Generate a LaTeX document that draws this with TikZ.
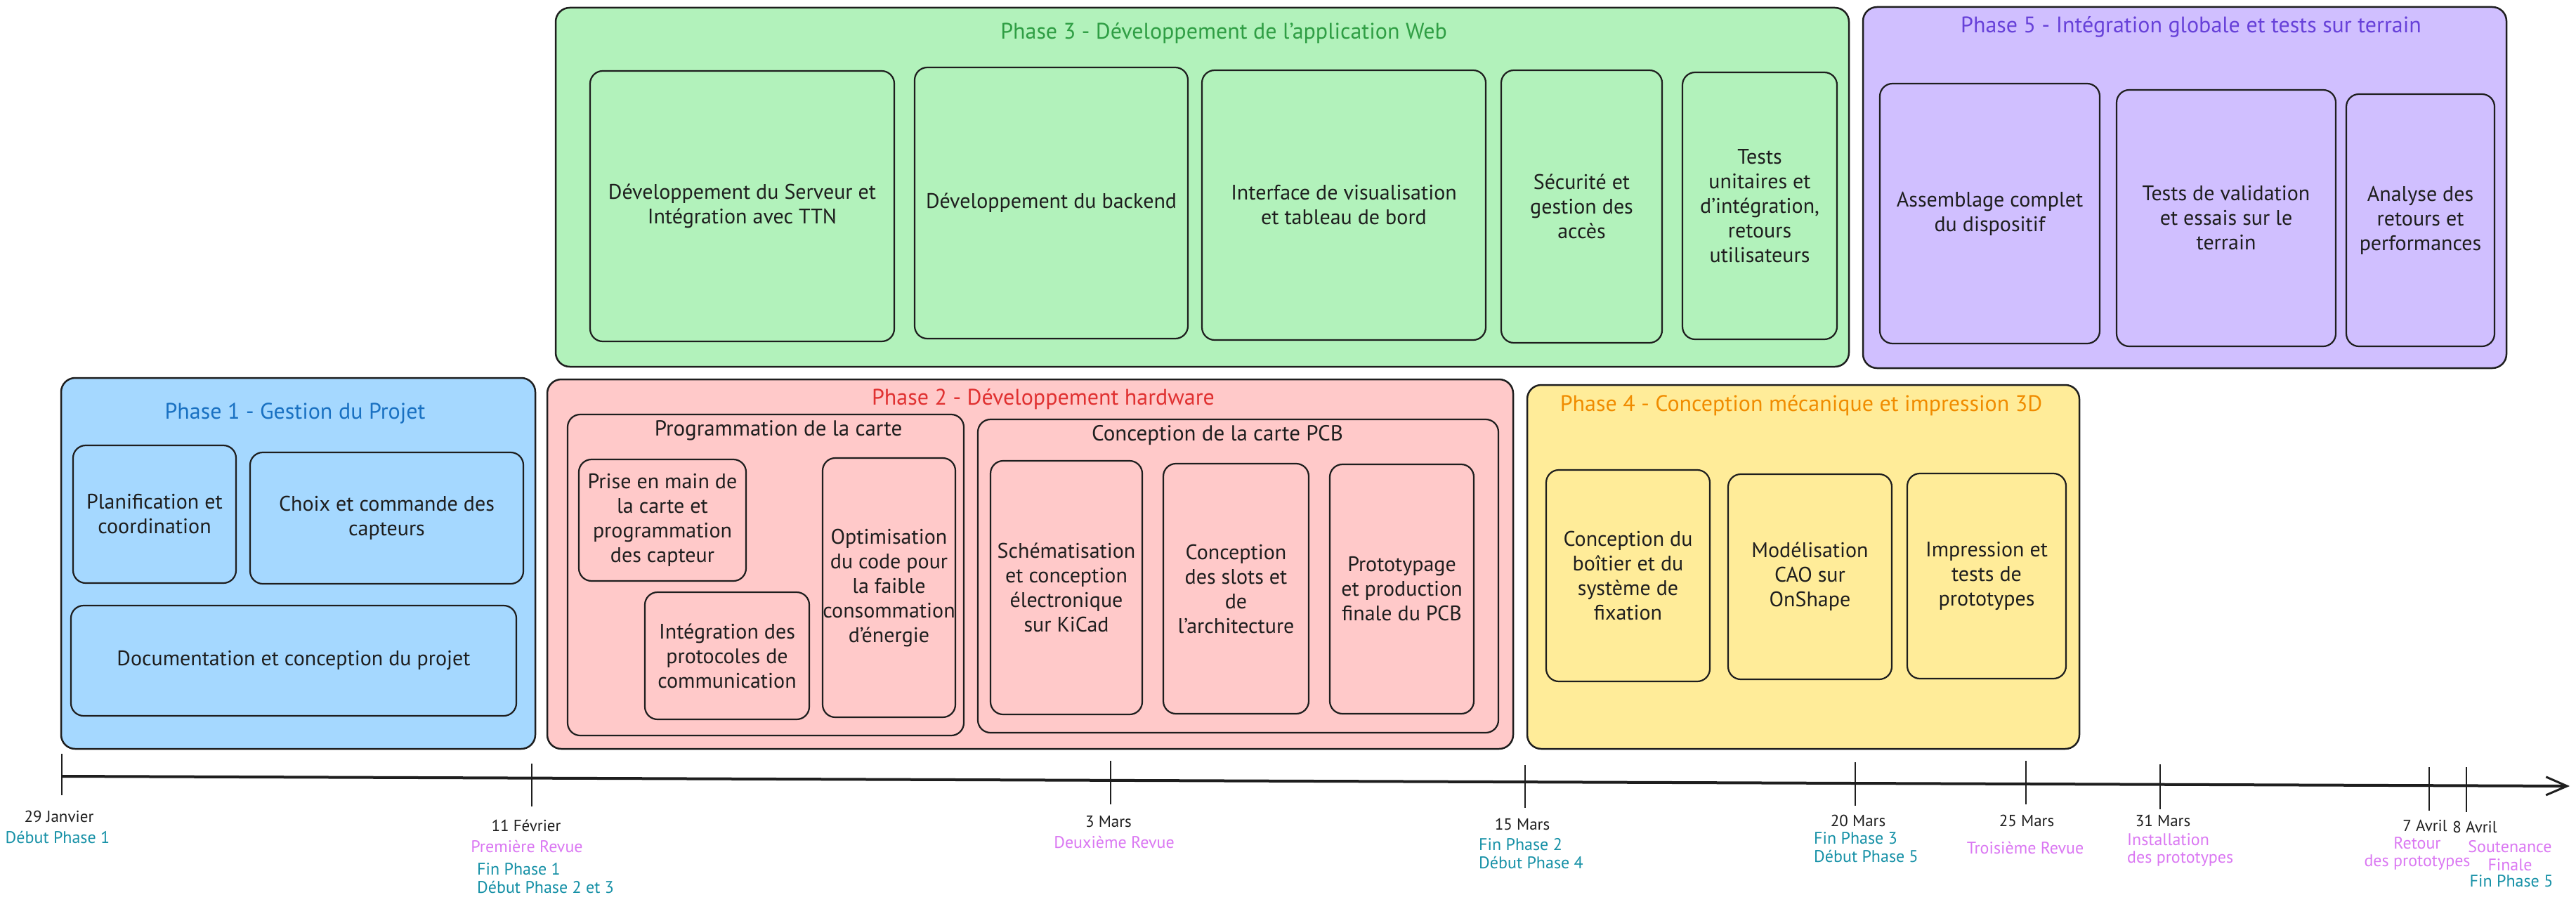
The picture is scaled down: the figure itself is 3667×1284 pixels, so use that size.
\documentclass[tikz,border=0pt]{standalone}
\usepackage{fontspec}
\setmainfont{PT Sans}
\usetikzlibrary{arrows.meta}
\definecolor{ink}{HTML}{1E1E1E}
\definecolor{p1fill}{HTML}{A5D8FF}\definecolor{p1text}{HTML}{1971C2}
\definecolor{p2fill}{HTML}{FFC9C9}\definecolor{p2text}{HTML}{E03131}
\definecolor{p3fill}{HTML}{B2F2BB}\definecolor{p3text}{HTML}{2F9E44}
\definecolor{p4fill}{HTML}{FFEC99}\definecolor{p4text}{HTML}{F08C00}
\definecolor{p5fill}{HTML}{D0BFFF}\definecolor{p5text}{HTML}{6741D9}
\definecolor{teal}{HTML}{1590A6}
\definecolor{pinkrev}{HTML}{DA77F2}
\tikzset{
  phasebox/.style={draw=ink, line width=2.5pt, rounded corners=20pt, inner sep=0pt},
  inbox/.style={draw=ink, line width=2.2pt, rounded corners=18pt, align=center, inner sep=0pt,
    text=ink, font=\fontsize{30}{35}\selectfont},
  grouptitle/.style={text=ink, font=\fontsize{31}{35}\selectfont, inner sep=0pt},
  phasetitle/.style={font=\fontsize{32}{36}\selectfont, inner sep=0pt},
  tickline/.style={draw=ink, line width=2pt},
  datelbl/.style={text=ink, font=\fontsize{23}{25}\selectfont, inner sep=0pt},
  revlbl/.style={text=pinkrev, font=\fontsize{24}{25.5}\selectfont, inner sep=0pt, align=center},
  phaselbl/.style={text=teal, font=\fontsize{24}{25.5}\selectfont, inner sep=0pt, align=left},
}
% \bx[opts]{name}{x1}{y1}{x2}{y2}{text}
\newcommand\bx[7][]{\node[#1,minimum width={(#5-#3)*1pt},minimum height={(#6-#4)*1pt}] (#2) at ({(#3+#5)/2},{(#4+#6)/2}) {#7};}
% \tickmark{name}{x}{y1}{y2}
\newcommand\tickmark[4]{\coordinate (#1a) at (#2,#3); \coordinate (#1b) at (#2,#4); \draw[tickline] (#1a) -- (#1b);}
\begin{document}
\begin{tikzpicture}[x=1pt,y=-1pt]
\useasboundingbox (0,0) rectangle (3667,1284);

% ---------- Phase 1 ----------
\bx[phasebox,fill=p1fill]{ph1}{87}{538}{762}{1066}{}
\node[phasetitle,text=p1text] (ph1t) at (420,588) {Phase 1 - Gestion du Projet};
\bx[inbox]{planif}{104}{634}{336}{830}{Planification et\\coordination}
\bx[inbox]{choix}{356}{644}{745}{831}{Choix et commande des\\capteurs}
\bx[inbox]{docu}{101}{862}{735}{1019}{Documentation et conception du projet}

% ---------- Phase 2 ----------
\bx[phasebox,fill=p2fill]{ph2}{779}{540}{2154}{1066}{}
\node[phasetitle,text=p2text] (ph2t) at (1485,568) {Phase 2 - Développement hardware};
\bx[inbox]{prog}{808}{590}{1372}{1047}{}
\node[grouptitle] (progt) at (1108,613) {Programmation de la carte};
\bx[inbox]{prise}{824}{654}{1062}{827}{Prise en main de\\la carte et\\programmation\\des capteur}
\bx[inbox]{integ}{918}{843}{1152}{1024}{Intégration des\\protocoles de\\communication}
\bx[inbox]{optim}{1171}{652}{1360}{1021}{Optimisation\\du code pour\\la faible\\consommation\\d'énergie}
\bx[inbox]{pcb}{1392}{597}{2133}{1043}{}
\node[grouptitle] (pcbt) at (1733,620) {Conception de la carte PCB};
\bx[inbox]{schem}{1410}{656}{1626}{1017}{Schématisation\\et conception\\électronique\\sur KiCad}
\bx[inbox]{slots}{1656}{660}{1863}{1016}{Conception\\des slots et\\de\\l'architecture}
\bx[inbox]{proto}{1893}{661}{2098}{1016}{Prototypage\\et production\\finale du PCB}

% ---------- Phase 3 ----------
\bx[phasebox,fill=p3fill]{ph3}{791}{11}{2632}{522}{}
\node[phasetitle,text=p3text] (ph3t) at (1742,47) {Phase 3 - Développement de l'application Web};
\bx[inbox]{serv}{840}{101}{1273}{486}{Développement du Serveur et\\Intégration avec TTN}
\bx[inbox]{back}{1302}{96}{1691}{482}{Développement du backend}
\bx[inbox]{interf}{1711}{100}{2115}{484}{Interface de visualisation\\et tableau de bord}
\bx[inbox]{secu}{2137}{100}{2366}{488}{Sécurité et\\gestion des\\accès}
\bx[inbox]{tests}{2395}{103}{2615}{483}{Tests\\unitaires et\\d'intégration,\\retours\\utilisateurs}

% ---------- Phase 4 ----------
\bx[phasebox,fill=p4fill]{ph4}{2174}{548}{2960}{1066}{}
\node[phasetitle,text=p4text] (ph4t) at (2564,577) {Phase 4 - Conception mécanique et impression 3D};
\bx[inbox]{boit}{2201}{669}{2434}{970}{Conception du\\boîtier et du\\système de\\fixation}
\bx[inbox]{model}{2460}{675}{2693}{967}{Modélisation\\CAO sur\\OnShape}
\bx[inbox]{impr}{2715}{674}{2941}{966}{Impression et\\tests de\\prototypes}

% ---------- Phase 5 ----------
\bx[phasebox,fill=p5fill]{ph5}{2652}{10}{3568}{524}{}
\node[phasetitle,text=p5text] (ph5t) at (3119,38) {Phase 5 - Intégration globale et tests sur terrain};
\bx[inbox]{assem}{2676}{119}{2989}{489}{Assemblage complet\\du dispositif}
\bx[inbox]{valid}{3013}{128}{3325}{493}{Tests de validation\\et essais sur le\\terrain}
\bx[inbox]{analy}{3340}{134}{3551}{493}{Analyse des\\retours et\\performances}

% ---------- Timeline ----------
\coordinate (tlS) at (88,1105);
\coordinate (tlE) at (3658,1119);
\draw[draw=ink, line width=4pt, -{Straight Barb[length=30pt,width=26pt,line width=3pt]}] (tlS) -- (tlE);
\tickmark{t1}{88}{1073}{1132}
\tickmark{t2}{757}{1087}{1148}
\tickmark{t3}{1581}{1083}{1145}
\tickmark{t4}{2171}{1089}{1150}
\tickmark{t5}{2641}{1085}{1147}
\tickmark{t6}{2884}{1083}{1145}
\tickmark{t7}{3075}{1088}{1152}
\tickmark{t8}{3458}{1092}{1154}
\tickmark{t9}{3511}{1092}{1156}

\node[datelbl] (d1) at (84,1162) {29 Janvier};
\node[phaselbl] (d1p) at (82,1192) {Début Phase 1};

\node[datelbl] (d2) at (749,1175) {11 Février};
\node[revlbl] (d2r) at (750,1205) {Première Revue};
\node[phaselbl, anchor=west] (d2p) at (679,1250) {Fin Phase 1\\Début Phase 2 et 3};

\node[datelbl] (d3) at (1578,1170) {3 Mars};
\node[revlbl] (d3r) at (1586,1199) {Deuxième Revue};

\node[datelbl] (d4) at (2167,1173) {15 Mars};
\node[phaselbl, anchor=west] (d4p) at (2105,1215) {Fin Phase 2\\Début Phase 4};

\node[datelbl] (d5) at (2645,1168) {20 Mars};
\node[phaselbl, anchor=west] (d5p) at (2582,1206) {Fin Phase 3\\Début Phase 5};

\node[datelbl] (d6) at (2885,1168) {25 Mars};
\node[revlbl] (d6r) at (2883,1207) {Troisième Revue};

\node[datelbl] (d7) at (3079,1168) {31 Mars};
\node[revlbl, anchor=west, align=left] (d7r) at (3028,1210) {Installation\\des prototypes};

\node[datelbl] (d8) at (3452,1175) {7 Avril};
\node[datelbl] (d9) at (3523,1177) {8 Avril};
\node[revlbl] (d8r) at (3441,1215) {Retour\\des prototypes};
\node[revlbl] (d9r) at (3573,1218) {Soutenance\\Finale};
\node[phaselbl] (d9p) at (3575,1254) {Fin Phase 5};
\end{tikzpicture}
\end{document}
